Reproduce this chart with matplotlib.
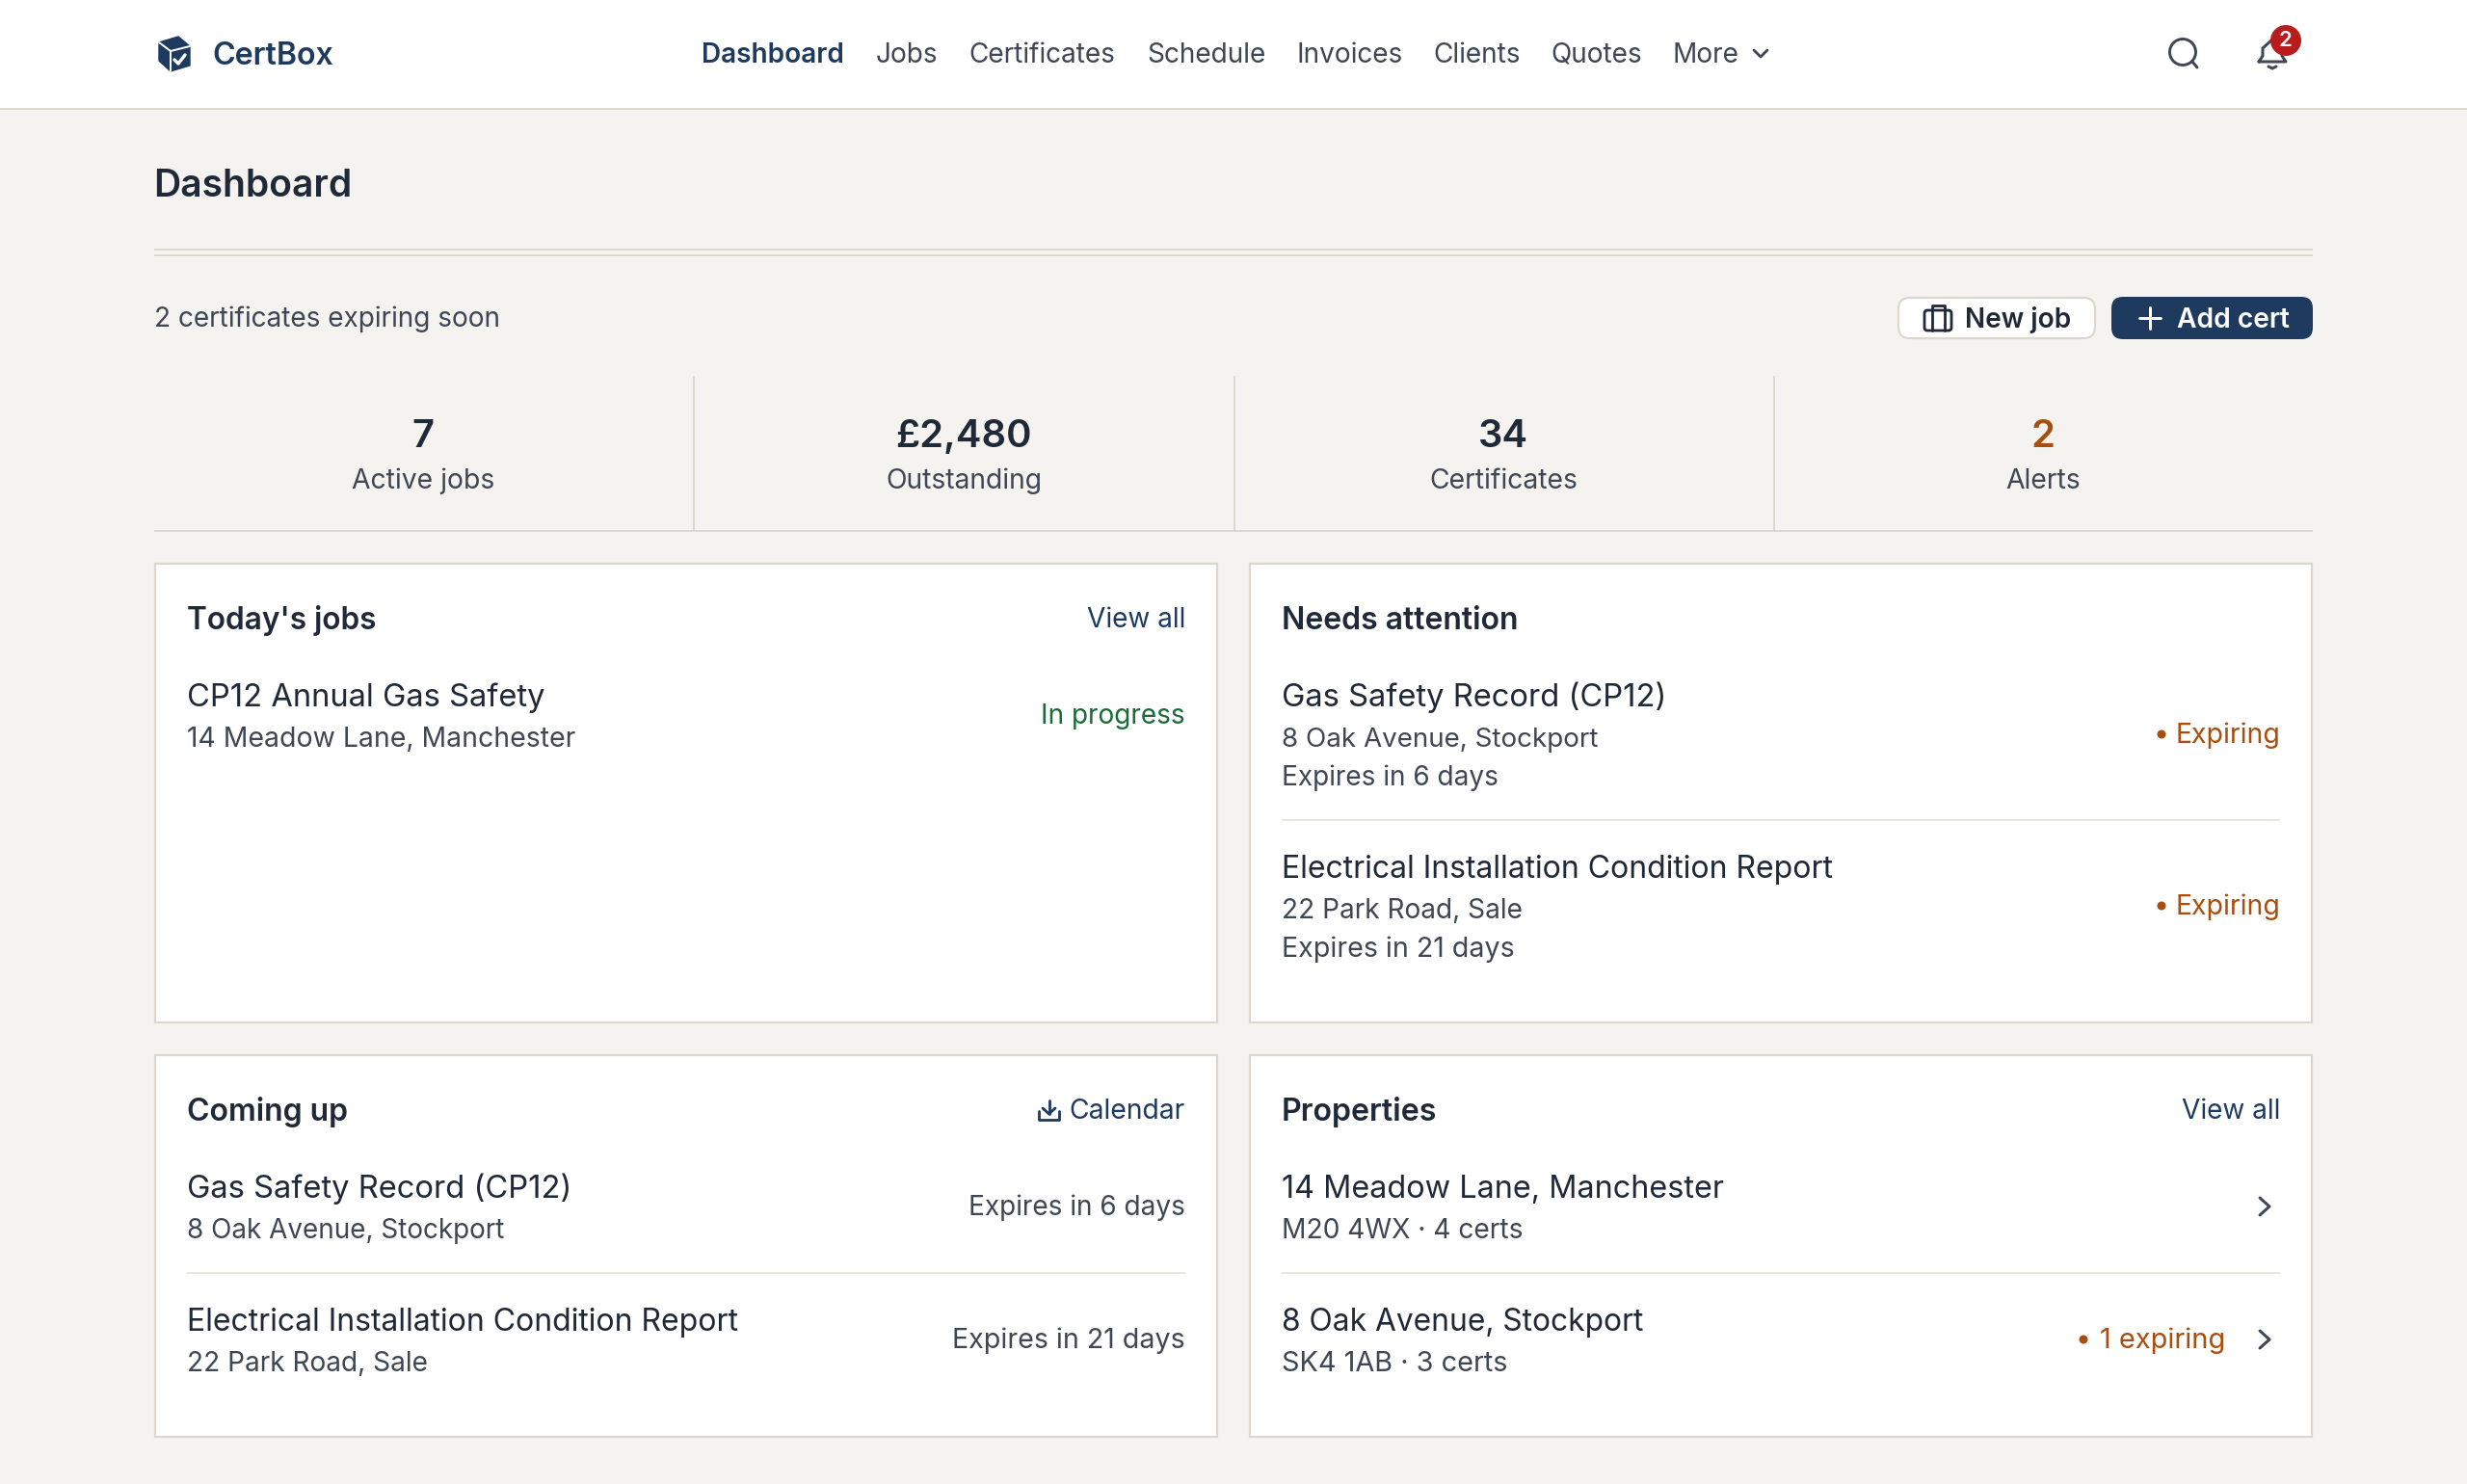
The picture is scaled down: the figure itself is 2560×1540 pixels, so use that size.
import matplotlib
matplotlib.use("Agg")
import matplotlib.pyplot as plt
from matplotlib.patches import Rectangle, FancyBboxPatch, Circle, Polygon

BG = "#F4F3EF"; BORDER = "#DDD8CC"; NAVY = "#1E3A5F"; DARK = "#1F2937"
GREY = "#3F4654"; ORANGE = "#A84F10"; GREEN = "#1B6B3A"; RED = "#B91C1C"; SOFT = "#E9E6DE"

nav_items = ["Dashboard", "Jobs", "Certificates", "Schedule", "Invoices", "Clients", "Quotes", "More"]
stat_values = ["7", "£2,480", "34", "2"]
stat_labels = ["Active jobs", "Outstanding", "Certificates", "Alerts"]

plt.rcParams["font.family"] = ["Inter", "DejaVu Sans"]
fig = plt.figure(figsize=(25.6, 15.4), dpi=100, facecolor=BG)
ax = fig.add_axes([0, 0, 1, 1])
ax.set_xlim(0, 2560); ax.set_ylim(1540, 0); ax.axis("off")

def t(x, y, s, px, c=DARK, w="normal", ha="left"):
    ax.text(x, y, s, fontsize=px * 0.72, color=c, fontweight=w, ha=ha, va="baseline")

def rect(x0, y0, x1, y1, fc, ec="none", lw=0, z=1):
    ax.add_patch(Rectangle((x0, y0), x1 - x0, y1 - y0, fc=fc, ec=ec, lw=lw, zorder=z))

def line(xs, ys, c=GREY, lw=2.9, z=3):
    ax.plot(xs, ys, color=c, lw=lw * 0.72, solid_capstyle="round", solid_joinstyle="round", zorder=z)

# header
rect(0, 0, 2560, 112, "white")
rect(0, 112, 2560, 114, BORDER)
ax.add_patch(Polygon([(185, 38), (197, 48), (197, 68), (177, 74), (165, 63), (165, 44)], fc=NAVY, ec=NAVY, lw=1, zorder=3))
line([165, 177, 197], [44, 53, 48], "white", 2)
line([177, 177], [53, 74], "white", 2)
line([181, 185, 192], [62, 66, 57], "white", 3.4)
t(220, 67, "CertBox", 32.2, NAVY, 600)

nav_x = [728, 909, 1005, 1190, 1345, 1487, 1609, 1736]
for i, (x, s) in enumerate(zip(nav_x, nav_items)):
    t(x, 65, s, 28, NAVY if i == 0 else GREY, 600 if i == 0 else "normal")
line([1820, 1827, 1834], [52, 59, 52], GREY, 2.8)

ax.add_patch(Circle((2265, 54), 13.5, fc="none", ec=GREY, lw=2.1, zorder=3))
line([2275, 2280], [64, 70], GREY, 3)
bx = 2358
line([bx - 14, bx - 10, bx - 10, bx, bx + 10, bx + 10, bx + 14, bx - 14],
     [64, 58, 50, 41, 50, 58, 64, 64], GREY, 3)
line([bx - 4, bx, bx + 4], [69, 71, 69], GREY, 3)
ax.add_patch(Circle((2372, 42), 16, fc=RED, ec="none", zorder=4))
ax.text(2372, 48, "2", fontsize=16, color="white", fontweight=600, ha="center", va="baseline", zorder=5)

# page title
t(159, 204, "Dashboard", 39, DARK, 600)
rect(160, 258, 2400, 260, BORDER)
rect(160, 264, 2400, 266, BORDER)

# action row
t(160, 339, "2 certificates expiring soon", 28, GREY)
ax.add_patch(FancyBboxPatch((1978, 317), 188, 26, boxstyle="round,pad=8,rounding_size=12", fc="white", ec=BORDER, lw=1.6, zorder=2))
ax.add_patch(FancyBboxPatch((1997, 322), 28, 21, boxstyle="round,pad=0,rounding_size=3", fc="none", ec=DARK, lw=2, zorder=3))
line([2005, 2005, 2018, 2018], [343, 317, 317, 343], DARK, 2.8)
t(2039, 340, "New job", 28, DARK, 600)
ax.add_patch(FancyBboxPatch((2199, 316), 193, 28, boxstyle="round,pad=8,rounding_size=12", fc=NAVY, ec="none", zorder=2))
line([2220, 2242], [330, 330], "white", 3)
line([2231, 2231], [319, 341], "white", 3)
t(2259, 340, "Add cert", 28.2, "white", 600)

# stats
stat_x = [439, 1000, 1560, 2120]
for i, (x, v, l) in enumerate(zip(stat_x, stat_values, stat_labels)):
    t(x, 464, v, 40, ORANGE if i == 3 else DARK, 600, "center")
    t(x, 507, l, 28.3, GREY, ha="center")
for x in (719, 1280, 1840):
    rect(x, 390, x + 2, 551, BORDER)
rect(160, 550, 2400, 552, BORDER)

# panels
for x0, y0, x1, y1 in [(161, 585, 1263, 1061), (1297, 585, 2399, 1061), (161, 1095, 1263, 1491), (1297, 1095, 2399, 1491)]:
    rect(x0, y0, x1, y1, "white", BORDER, 1.6, 1)

def title(x, y, s, px=32): t(x, y, s, px, DARK, 600)
def head(x, y, s, px=32.5): t(x, y, s, px, DARK)
def sub(x, y, s, px=28): t(x, y, s, px, GREY)

title(194, 653, "Today's jobs", 31.6)
t(1230, 651, "View all", 28, NAVY, ha="right")
head(194, 733, "CP12 Annual Gas Safety", 32.7)
sub(194, 775, "14 Meadow Lane, Manchester", 28.4)
t(1230, 751, "In progress", 28, GREEN, ha="right")

title(1330, 653, "Needs attention")
head(1330, 733, "Gas Safety Record (CP12)", 32.7)
sub(1330, 775, "8 Oak Avenue, Stockport", 27.8)
sub(1330, 815, "Expires in 6 days", 28)
t(2366, 771, "Expiring", 28.4, ORANGE, ha="right")
ax.add_patch(Circle((2243, 762), 4.5, fc=ORANGE, ec="none", zorder=3))
rect(1330, 850, 2366, 852, SOFT)
head(1330, 911, "Electrical Installation Condition Report", 32)
sub(1330, 953, "22 Park Road, Sale")
sub(1330, 993, "Expires in 21 days", 28.6)
t(2366, 949, "Expiring", 28.4, ORANGE, ha="right")
ax.add_patch(Circle((2243, 940), 4.5, fc=ORANGE, ec="none", zorder=3))

title(194, 1163, "Coming up")
line([1078, 1078, 1099, 1099], [1153, 1162, 1162, 1153], NAVY, 2.8)
line([1088.5, 1088.5], [1142, 1156], NAVY, 2.8)
line([1082, 1088.5, 1095], [1150, 1156, 1150], NAVY, 2.8)
t(1230, 1161, "Calendar", 28.3, NAVY, ha="right")
head(194, 1243, "Gas Safety Record (CP12)", 32.7)
sub(194, 1285, "8 Oak Avenue, Stockport", 27.9)
t(1230, 1261, "Expires in 6 days", 28, GREY, ha="right")
rect(194, 1320, 1230, 1322, SOFT)
head(194, 1381, "Electrical Installation Condition Report", 32)
sub(194, 1423, "22 Park Road, Sale")
t(1230, 1399, "Expires in 21 days", 28.6, GREY, ha="right")

title(1330, 1163, "Properties", 32.2)
t(2366, 1161, "View all", 28, NAVY, ha="right")
head(1330, 1243, "14 Meadow Lane, Manchester", 32.4)
sub(1330, 1285, "M20 4WX · 4 certs", 28.2)
line([2345, 2355, 2345], [1243, 1252, 1261], GREY, 3)
rect(1330, 1320, 2366, 1322, SOFT)
head(1330, 1381, "8 Oak Avenue, Stockport", 31.7)
sub(1330, 1423, "SK4 1AB · 3 certs", 28.9)
line([2345, 2355, 2345], [1381, 1390, 1399], GREY, 3)
t(2309, 1399, "1 expiring", 29, ORANGE, ha="right")
ax.add_patch(Circle((2162, 1390), 4.5, fc=ORANGE, ec="none", zorder=3))

fig.savefig("out.png", dpi=100, facecolor=BG)
